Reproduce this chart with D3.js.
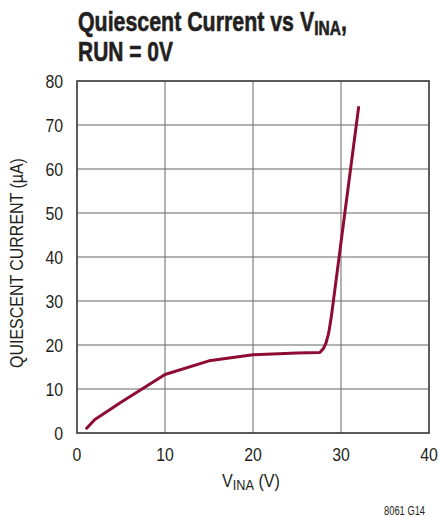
<!DOCTYPE html>
<html lang="en">
<head>
    <script src="https://d3js.org/d3.v7.min.js"></script>
    <style>
        body { margin: 0; background: #fff; }
        text { font-family: "Liberation Sans", Arial, sans-serif; fill: #231f20; }
        .title { font-weight: bold; font-size: 27.5px; stroke: #231f20; stroke-width: 0.6px; }
        .tick-label { font-size: 18px; }
        .axis-title { font-size: 19px; }
        .curve { fill: none; stroke: #8e0c33; stroke-width: 3px; stroke-linejoin: round; stroke-linecap: round; }
    </style>
</head>
<body>
    <div id="chart"></div>
    <script>
        // data: VINA (V) vs quiescent current (uA)
        const vin = [1.1, 2.0, 5.0, 10.0, 15.0, 20.0, 25.0, 27.6, 28.0, 28.3, 28.6, 28.9, 32.0];
        const iq = [1.1, 3.0, 7.0, 13.3, 16.4, 17.8, 18.2, 18.3, 19.2, 20.5, 22.7, 26.4, 74.0];
        const xTicks = [0, 10, 20, 30, 40];
        const yTicks = [0, 10, 20, 30, 40, 50, 60, 70, 80];

        const width = 439, height = 517;
        const plotLeft = 77, plotRight = 429, plotTop = 81, plotBottom = 433;
        const narrow = 0.88; // squeeze Liberation Sans to look like a condensed face

        const svg = d3.select('#chart').append('svg')
            .attr('width', width)
            .attr('height', height);

        const x = d3.scaleLinear().domain([0, 40]).range([plotLeft, plotRight]);
        const y = d3.scaleLinear().domain([0, 80]).range([plotBottom, plotTop]);

        // text placed in a group so it can be squeezed horizontally
        function addText(tx, ty, cls, anchor, rot) {
            const g = svg.append('g').attr('data-x', tx).attr('data-y', ty).attr('data-rot', rot || 0);
            const t = g.append('text').attr('class', cls).attr('text-anchor', anchor || 'start');
            return t;
        }
        function squeeze(t, s) {
            const g = d3.select(t.node().parentNode);
            const rot = +g.attr('data-rot');
            g.attr('transform', 'translate(' + g.attr('data-x') + ',' + g.attr('data-y') + ')' +
                (rot ? ' rotate(' + rot + ')' : '') + ' scale(' + s + ',1)');
        }
        function fitWidth(t, w) {
            squeeze(t, w / t.node().getComputedTextLength());
        }

        // grid
        svg.selectAll('line.vgrid')
            .data(xTicks.slice(1, -1))
            .enter().append('line')
            .attr('x1', d => x(d)).attr('x2', d => x(d))
            .attr('y1', plotTop).attr('y2', plotBottom)
            .attr('stroke', '#9a9a9a').attr('stroke-width', 1.5);

        svg.selectAll('line.hgrid')
            .data(yTicks.slice(1, -1))
            .enter().append('line')
            .attr('x1', plotLeft).attr('x2', plotRight)
            .attr('y1', d => y(d)).attr('y2', d => y(d))
            .attr('stroke', '#666').attr('stroke-width', 1.2);

        // frame
        svg.append('rect')
            .attr('x', plotLeft).attr('y', plotTop)
            .attr('width', plotRight - plotLeft).attr('height', plotBottom - plotTop)
            .attr('fill', 'none')
            .attr('stroke', '#4a4a4a')
            .attr('stroke-width', 1.8);

        // tick labels
        yTicks.forEach(d => {
            const t = addText(63, y(d) + 7, 'tick-label', 'end').text(d);
            squeeze(t, narrow);
        });
        xTicks.forEach(d => {
            const t = addText(x(d), 461, 'tick-label', 'middle').text(d);
            squeeze(t, narrow);
        });

        // curve
        const line = d3.line()
            .x((d, i) => x(vin[i]))
            .y(d => y(d));

        svg.append('path')
            .datum(iq)
            .attr('class', 'curve')
            .attr('d', line);

        // title
        const t1 = addText(78, 30.5, 'title');
        t1.append('tspan').text('Quiescent Current vs V');
        t1.append('tspan').attr('font-size', '20px').attr('dy', 4.5).text('INA');
        t1.append('tspan').attr('dy', -4.5).text(',');
        fitWidth(t1, 269);
        const t2 = addText(78, 61, 'title').text('RUN = 0V');
        fitWidth(t2, 95);

        // axis titles
        const xt = addText(251, 487, 'axis-title', 'middle');
        xt.append('tspan').text('V');
        xt.append('tspan').attr('font-size', '15px').attr('dy', 3).text('INA');
        xt.append('tspan').attr('dy', -3).text(' (V)');
        fitWidth(xt, 58);

        const yt = addText(23, 263, 'axis-title', 'middle', -90).attr('font-size', '18px')
            .text('QUIESCENT CURRENT (\u00b5A)');
        fitWidth(yt, 210);

        const fn = addText(425, 515, 'foot', 'end').attr('font-size', '12.5px').text('8061 G14');
        fitWidth(fn, 41);
    </script>
</body>
</html>
